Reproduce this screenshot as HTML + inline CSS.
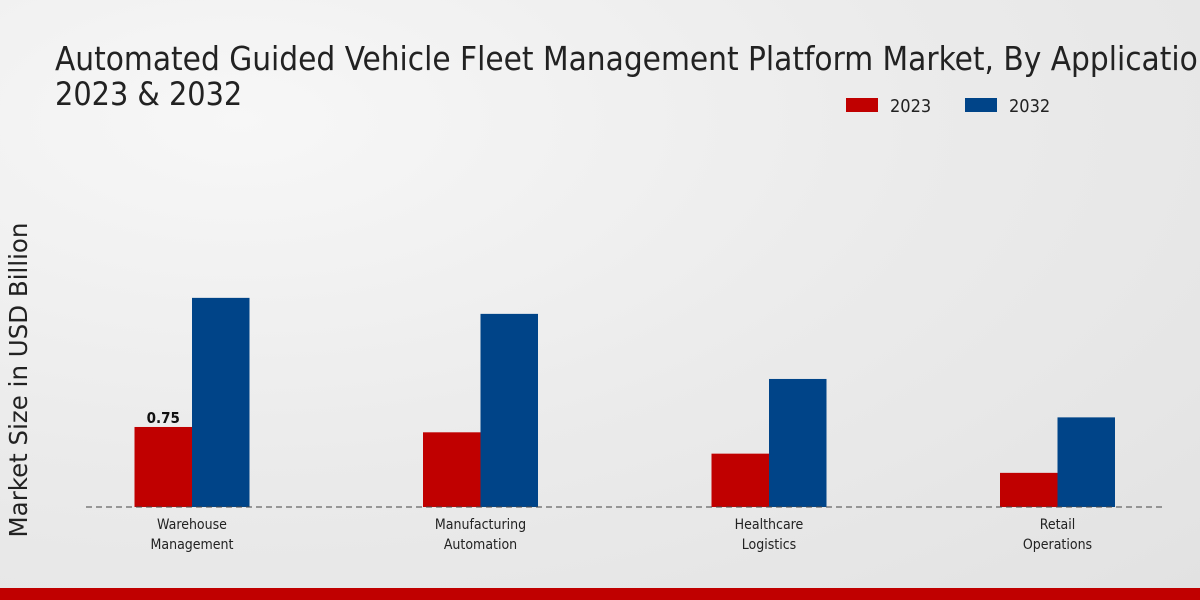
<!DOCTYPE html>
<html><head><meta charset="utf-8"><style>
html,body{margin:0;padding:0}
body{width:1200px;height:600px;overflow:hidden;background:radial-gradient(ellipse at 20% 20%,#f7f7f7 0%,#ebebeb 50%,#e2e2e2 100%);font-family:"DejaVu Sans Condensed","DejaVu Sans","Liberation Sans",sans-serif;position:relative}
svg{position:absolute;left:0;top:0}
</style></head><body>
<svg width="1200" height="600">
<text x="55" y="70" font-size="33" fill="#222" font-family="DejaVu Sans Condensed, DejaVu Sans, sans-serif">Automated Guided Vehicle Fleet Management Platform Market, By Application</text>
<text x="55" y="105" font-size="32" fill="#222" font-family="DejaVu Sans Condensed, DejaVu Sans, sans-serif">2023 &amp; 2032</text>
<g>
<rect x="846" y="98" width="32" height="14" fill="#c00000"/>
<text x="890" y="112" font-size="18" fill="#222">2023</text>
<rect x="965" y="98" width="32" height="14" fill="#004488"/>
<text x="1009" y="112" font-size="18" fill="#222">2032</text>
</g>
<text transform="translate(27,380) rotate(-90)" text-anchor="middle" font-size="24.5" fill="#222" font-family="DejaVu Sans, sans-serif">Market Size in USD Billion</text>
<g id="bars"></g>
<line x1="86" y1="507" x2="1165" y2="507" stroke="#444" stroke-width="1" stroke-dasharray="6,4"/>
<g id="labels"></g>
<rect x="0" y="588" width="1200" height="12" fill="#c00000"/>
</svg>
<script>
const categories=[["Warehouse","Management"],["Manufacturing","Automation"],["Healthcare","Logistics"],["Retail","Operations"]];
const values2023=[0.75,0.70,0.50,0.32];
const values2032=[1.96,1.81,1.20,0.84];
const valueLabels=["0.75","","",""];
const NS="http://www.w3.org/2000/svg";
const baseY=507,pxPerUnit=106.7,x0=192,step=288.5,bw=57.5;
function yScale(v){return baseY-v*pxPerUnit;}
function xCenter(i){return x0+i*step;}
const bars=document.getElementById('bars'),labels=document.getElementById('labels');
function mk(t,a){const e=document.createElementNS(NS,t);for(const k in a)e.setAttribute(k,a[k]);return e;}
categories.forEach((c,i)=>{
 const cx=xCenter(i);
 const r1=mk('rect',{x:cx-bw,y:yScale(values2023[i]),width:bw,height:baseY-yScale(values2023[i]),fill:'#c00000'});
 
 
 bars.appendChild(r1);
 const r2=mk('rect',{x:cx,y:yScale(values2032[i]),width:bw,height:baseY-yScale(values2032[i]),fill:'#004488'});
 
 
 bars.appendChild(r2);
 if(valueLabels[i]){
  const t=mk('text',{x:cx-bw/2,y:yScale(values2023[i])-4,'text-anchor':'middle','font-size':'15','font-weight':'bold',fill:'#111'});
  t.textContent=valueLabels[i];
  
  
  labels.appendChild(t);
 }
 c.forEach((line,j)=>{
  const t=mk('text',{x:cx,y:529+j*20,'text-anchor':'middle','font-size':'14',fill:'#222'});
  t.textContent=line;
  
  
  labels.appendChild(t);
 });
});
</script>
</body></html>
